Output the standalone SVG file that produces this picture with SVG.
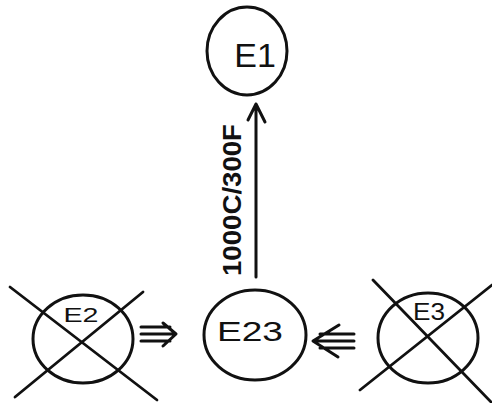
<svg xmlns="http://www.w3.org/2000/svg" width="492" height="403" viewBox="0 0 492 403">
<style>
.n{fill:none;stroke:#111;stroke-width:3}
.x{stroke:#111;stroke-width:2.8;stroke-linecap:round}
.t{font-family:"Liberation Sans",Arial,sans-serif;fill:#111;text-anchor:middle}
.c{fill:none;stroke:#111;stroke-width:3;stroke-linecap:round;stroke-linejoin:round}
</style>
<rect width="492" height="403" fill="#fff"/>
<g id="E1">
<ellipse class="n" cx="247" cy="51" rx="40" ry="44"/>
<text class="t" x="255" y="67" font-size="34">E1</text>
</g>
<g id="E23">
<ellipse class="n" cx="255" cy="335" rx="51" ry="45"/>
<text class="t" x="250" y="341" font-size="28" textLength="66" lengthAdjust="spacingAndGlyphs">E23</text>
</g>
<g id="E2">
<ellipse class="n" cx="83" cy="339" rx="50" ry="44"/>
<text class="t" x="81" y="322" font-size="21" textLength="35" lengthAdjust="spacingAndGlyphs">E2</text>
<line class="x" x1="10" y1="287" x2="157" y2="400"/>
<line class="x" x1="143" y1="292" x2="15" y2="397"/>
</g>
<g id="E3">
<ellipse class="n" cx="428" cy="338" rx="50" ry="45"/>
<text class="t" x="429" y="320" font-size="23" textLength="32" lengthAdjust="spacingAndGlyphs">E3</text>
<line class="x" x1="373" y1="280" x2="492" y2="403"/>
<line class="x" x1="360" y1="390" x2="492" y2="285"/>
</g>
<g id="connectors">
<path class="c" d="M256 277V104M248 120L256 104L265 122"/>
<text class="t" font-size="26" font-weight="bold" textLength="152" lengthAdjust="spacingAndGlyphs" transform="translate(241 200) rotate(-90)">1000C/300F</text>
<path class="c" d="M141 327H170M141 334H173M141 341H170M163 323L176 334L163 346"/>
<path class="c" d="M320 334H354M316 341H354M320 348H354M339 325L313 341L338 357"/>
</g>
</svg>
